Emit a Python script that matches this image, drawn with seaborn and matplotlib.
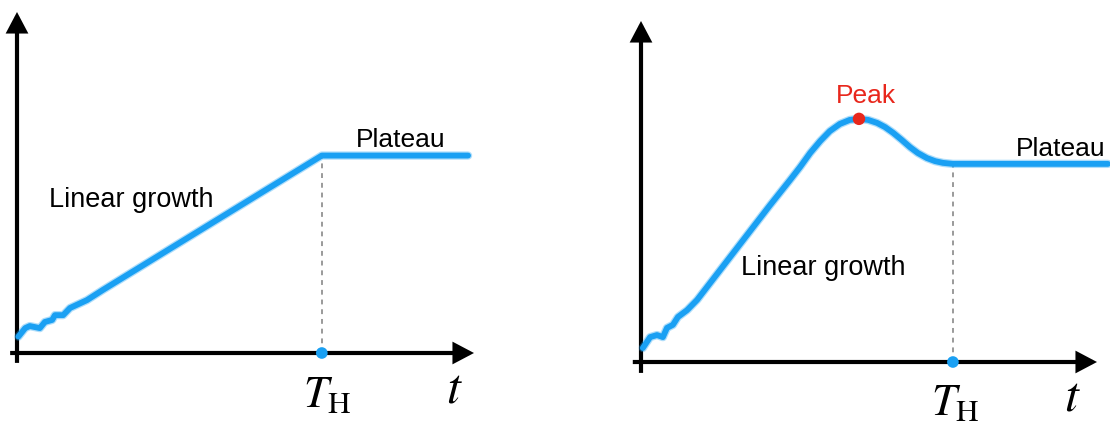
import matplotlib
matplotlib.use("Agg")
import matplotlib.pyplot as plt
import seaborn as sns
import pandas as pd

# ---------------- data ----------------
left_t = [0.03, 0.18, 0.28, 0.50, 0.61, 0.77, 0.83, 1.01, 1.16, 1.53, 1.88, 6.67, 9.87]
left_y = [0.48, 0.73, 0.79, 0.73, 0.91, 0.97, 1.11, 1.11, 1.32, 1.55, 1.85, 5.79, 5.79]

right_t = [0.04, 0.20, 0.35, 0.48, 0.57, 0.70, 0.81, 1.01, 1.23, 2.83, 3.27, 3.49,
           3.71, 3.93, 4.14, 4.36, 4.58, 4.78, 4.98, 5.18, 5.35, 5.53, 5.72, 5.90,
           6.07, 6.27, 6.45, 6.62, 6.84, 7.87, 10.24]
right_y = [0.41, 0.73, 0.79, 0.73, 1.00, 1.09, 1.32, 1.52, 1.82, 4.60, 5.34, 5.72,
           6.13, 6.48, 6.77, 6.98, 7.10, 7.13, 7.10, 7.01, 6.89, 6.72, 6.51, 6.30,
           6.13, 5.98, 5.89, 5.84, 5.81, 5.81, 5.81]

th_left, plateau_left = 6.67, 5.79
th_right, plateau_right = 6.84, 5.81
peak_t, peak_y = 4.78, 7.13

labels_left = {"growth": "Linear growth", "plateau": "Plateau"}
labels_right = {"growth": "Linear growth", "plateau": "Plateau", "peak": "Peak"}
th_label = r"$T_{\mathrm{H}}$"
t_label = r"$t$"

# ---------------- style ----------------
sns.set_theme(style="white")
plt.rcParams["font.family"] = ["Liberation Sans", "DejaVu Sans"]
plt.rcParams["mathtext.fontset"] = "stix"
plt.rcParams["text.color"] = "black"

BLUE = "#1aa0f3"
RED = "#e8271c"
GREY = "#9a9a9a"

W, H = 1110, 426
fig = plt.figure(figsize=(W / 100, H / 100), dpi=100)
axL = fig.add_axes([17 / W, (H - 353) / H, 457 / W, 341 / H])
axR = fig.add_axes([641 / W, (H - 362) / H, 456 / W, 341 / H])


def draw_frame(ax, xstart, ystart):
    ax.set_xlim(0, 10)
    ax.set_ylim(0, 10)
    ax.axis("off")
    ap = dict(arrowstyle="-|>,head_length=0.36,head_width=0.19", lw=3.0,
              color="black", shrinkA=0, shrinkB=0, mutation_scale=30,
              joinstyle="miter", capstyle="butt")
    ax.annotate("", xy=(10, 0), xytext=(xstart, 0), arrowprops=ap,
                annotation_clip=False, zorder=3)
    ax.annotate("", xy=(0, 10), xytext=(0, ystart), arrowprops=ap,
                annotation_clip=False, zorder=3)


def draw_curve(ax, t, y):
    df = pd.DataFrame({"t": t, "y": y})
    sns.lineplot(data=df, x="t", y="y", ax=ax, color=BLUE, lw=6.0, alpha=0.35,
                 clip_on=False, solid_capstyle="round", solid_joinstyle="round",
                 legend=False, zorder=4)
    sns.lineplot(data=df, x="t", y="y", ax=ax, color=BLUE, lw=4.2,
                 clip_on=False, solid_capstyle="round", solid_joinstyle="round",
                 legend=False, zorder=5)


def draw_th(ax, th, plat):
    ax.plot([th, th], [0, plat], color=GREY, lw=1.4, ls=(0, (2.5, 2.5)), zorder=2)
    sns.scatterplot(x=[th], y=[0], ax=ax, color=BLUE, s=70, edgecolor="none",
                    zorder=6, clip_on=False, legend=False)


# ---------------- left panel ----------------
draw_frame(axL, -0.15, -0.29)
draw_th(axL, th_left, plateau_left)
draw_curve(axL, left_t, left_y)
axL.text(2.49, 4.28, labels_left["growth"], fontsize=19.5, color="black", ha="center", va="baseline")
axL.text(8.40, 6.04, labels_left["plateau"], fontsize=19, color="black", ha="center", va="baseline")
axL.text(6.78, -1.58, th_label, fontsize=32, color="black", ha="center", va="baseline")
axL.text(9.58, -1.44, t_label, fontsize=36, color="black", ha="center", va="baseline")

# ---------------- right panel ----------------
draw_frame(axR, -0.18, -0.32)
draw_th(axR, th_right, plateau_right)
draw_curve(axR, right_t, right_y)
sns.scatterplot(x=[peak_t], y=[peak_y], ax=axR, color=RED, s=80, edgecolor="none",
                zorder=7, legend=False)
axR.text(4.93, 7.60, labels_right["peak"], fontsize=19, color=RED, ha="center", va="baseline")
axR.text(9.21, 6.04, labels_right["plateau"], fontsize=19, color="black", ha="center", va="baseline")
axR.text(3.99, 2.55, labels_right["growth"], fontsize=19.5, color="black", ha="center", va="baseline")
axR.text(6.89, -1.55, th_label, fontsize=32, color="black", ha="center", va="baseline")
axR.text(9.45, -1.41, t_label, fontsize=36, color="black", ha="center", va="baseline")

for ax in (axL, axR):
    ax.set_xlabel("")
    ax.set_ylabel("")

fig.savefig("out.png", dpi=100, facecolor="white")
